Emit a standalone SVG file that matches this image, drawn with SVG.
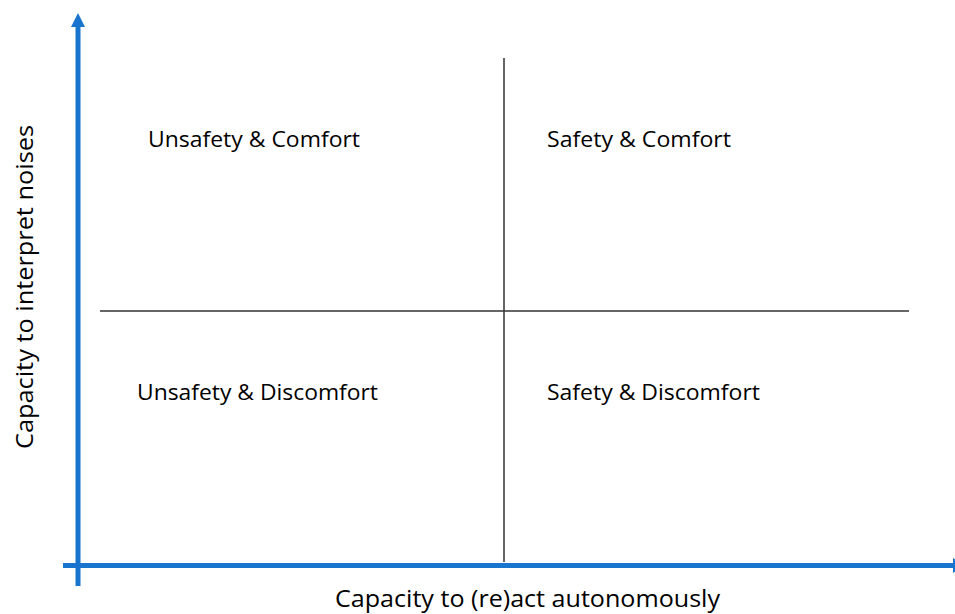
<svg xmlns="http://www.w3.org/2000/svg" width="955" height="614" viewBox="0 0 955 614">
<style>
.lbl{font-family:"Open Sans","Liberation Sans",sans-serif;font-size:22.5px;fill:#000}
.ax{font-family:"Open Sans","Liberation Sans",sans-serif;font-size:24px;fill:#000}
.axis{stroke:#1874CD;stroke-width:5;fill:none}
.head{fill:#1874CD}
.grid{stroke:#333;stroke-width:1.5;fill:none}
</style>
<rect width="955" height="614" fill="#fff"/>
<g id="connectors">
<line class="grid" x1="504" y1="58" x2="504" y2="562"/>
<line class="grid" x1="100" y1="311" x2="909" y2="311"/>
<line class="axis" x1="78" y1="586" x2="78" y2="26"/>
<polygon class="head" points="78,13 71,27 85,27"/>
<line class="axis" x1="63" y1="565.5" x2="955" y2="565.5"/>
<polygon class="head" points="953,558 966,565.5 953,573"/>
</g>
<g id="q-unsafety-comfort"><text class="lbl" x="148" y="147" textLength="212" lengthAdjust="spacingAndGlyphs">Unsafety &amp; Comfort</text></g>
<g id="q-safety-comfort"><text class="lbl" x="547" y="147" textLength="184" lengthAdjust="spacingAndGlyphs">Safety &amp; Comfort</text></g>
<g id="q-unsafety-discomfort"><text class="lbl" x="137" y="400" textLength="241" lengthAdjust="spacingAndGlyphs">Unsafety &amp; Discomfort</text></g>
<g id="q-safety-discomfort"><text class="lbl" x="547" y="400" textLength="213" lengthAdjust="spacingAndGlyphs">Safety &amp; Discomfort</text></g>
<g id="x-label"><text class="ax" x="335" y="607" textLength="385" lengthAdjust="spacingAndGlyphs">Capacity to (re)act autonomously</text></g>
<g id="y-label"><text class="ax" transform="translate(33,449) rotate(-90)" x="0" y="0" textLength="324" lengthAdjust="spacingAndGlyphs">Capacity to interpret noises</text></g>
</svg>
